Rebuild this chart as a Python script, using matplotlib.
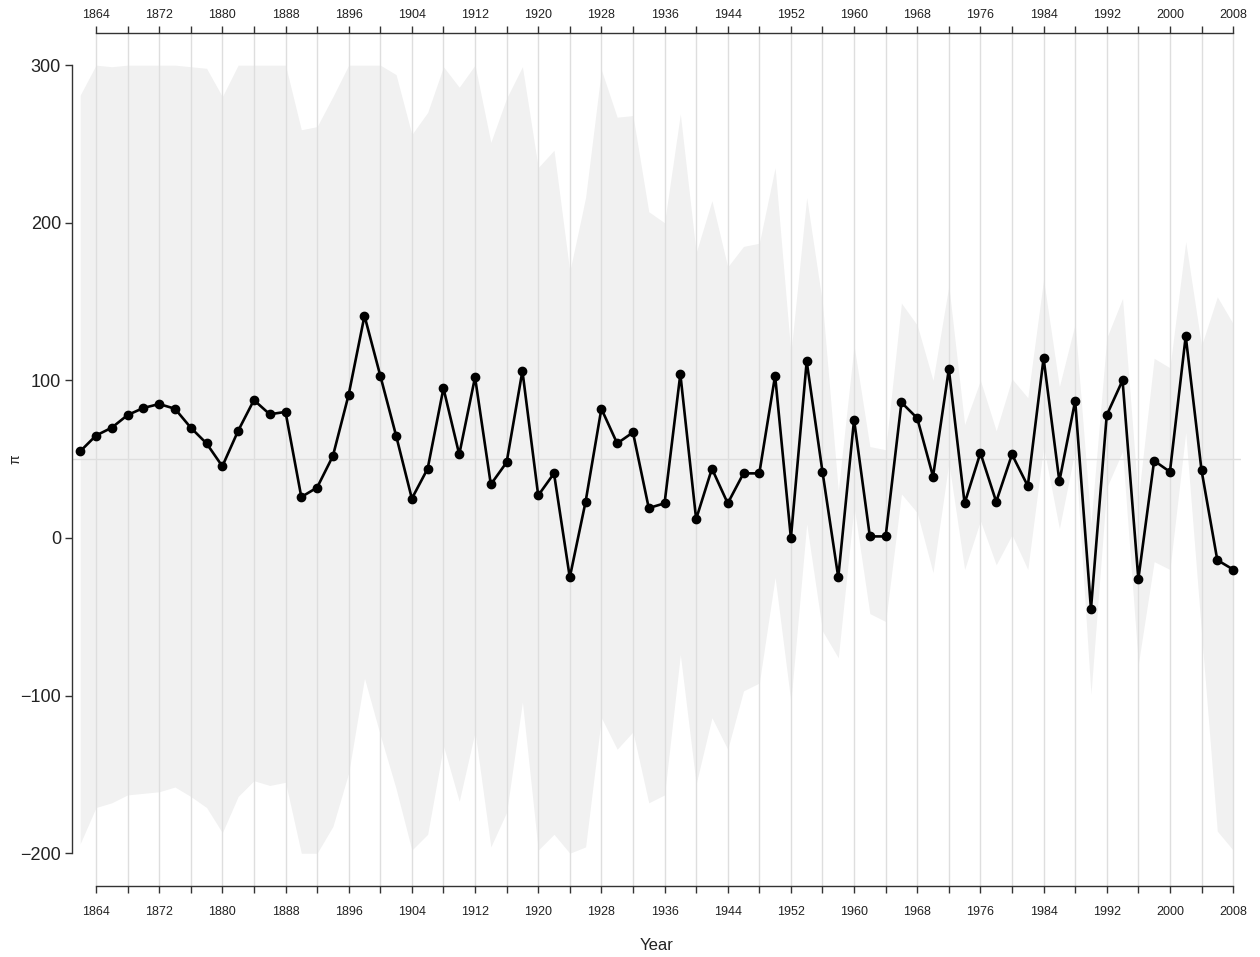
import numpy as np
import matplotlib
matplotlib.use('Agg')
import matplotlib.pyplot as plt
from matplotlib.ticker import MultipleLocator

plt.rcParams['font.family'] = ['Liberation Sans', 'DejaVu Sans']

years = [1862, 1864, 1866, 1868, 1870, 1872, 1874, 1876, 1878, 1880,
         1882, 1884, 1886, 1888, 1890, 1892, 1894, 1896, 1898, 1900,
         1902, 1904, 1906, 1908, 1910, 1912, 1914, 1916, 1918, 1920,
         1922, 1924, 1926, 1928, 1930, 1932, 1934, 1936, 1938, 1940,
         1942, 1944, 1946, 1948, 1950, 1952, 1954, 1956, 1958, 1960,
         1962, 1964, 1966, 1968, 1970, 1972, 1974, 1976, 1978, 1980,
         1982, 1984, 1986, 1988, 1990, 1992, 1994, 1996, 1998, 2000,
         2002, 2004, 2006, 2008]

# estimate of pi per year
pi_est = [55, 65, 70, 78, 82.5, 85, 82, 70, 60, 45.5,
          68, 87.5, 78.5, 80, 26, 32, 52, 91, 141, 103,
          65, 25, 44, 95, 53, 102, 34, 48, 106, 27,
          41, -25, 23, 82, 60, 67, 19, 22, 104, 12,
          44, 22, 41, 41, 103, 0, 112, 42, -25, 75,
          1, 1, 86, 76, 39, 107, 22, 54, 23, 53,
          33, 114, 36, 87, -45, 78, 100, -26, 49, 42,
          128, 43, -14, -20]

# interval bounds (shaded band)
pi_upper = [281, 300, 299, 300, 300, 300, 300, 299, 298, 280,
            300, 300, 300, 300, 259, 261, 280, 300, 300, 300,
            294, 256, 270, 299, 286, 300, 251, 279, 299, 235,
            246, 169, 216, 297, 267, 268, 207, 200, 269, 181,
            214, 172, 185, 187, 235, 117, 216, 149, 30, 122,
            58, 56, 149, 135, 100, 160, 72, 100, 68, 101,
            89, 164, 96, 136, 9, 127, 152, 25, 114, 108,
            188, 122, 153, 136]

pi_lower = [-194, -171, -168, -163, -162, -161, -158, -164, -171, -187,
            -164, -154, -157, -155, -200, -200, -183, -149, -89, -125,
            -159, -198, -188, -132, -167, -123, -196, -174, -104, -198,
            -188, -200, -196, -114, -134, -123, -168, -163, -74, -156,
            -114, -134, -97, -92, -25, -104, 9, -59, -76, 20,
            -48, -53, 28, 16, -22, 48, -20, 11, -17, 2,
            -20, 58, 6, 56, -99, 32, 55, -80, -15, -20,
            67, -60, -186, -198]

ref_level = 50
x_range = (1860.96, 2009)

fig = plt.figure(figsize=(12.6, 9.57), dpi=100)
ax = fig.add_axes([0.05714, 0.07419, 0.92778, 0.89133])

ax.fill_between(years, pi_lower, pi_upper, color='#f1f1f1', lw=0, zorder=1)
ax.axhline(ref_level, color='#dedede', lw=1, zorder=1.5)
ax.plot(years, pi_est, color='black', lw=1.9, marker='o', ms=6, zorder=3)

ax.set_xlim(*x_range)
ax.set_ylim(-220.8, 320.4)

ax.xaxis.set_major_locator(MultipleLocator(8))
ax.xaxis.set_minor_locator(MultipleLocator(4))
ax.yaxis.set_major_locator(MultipleLocator(100))
ax.grid(axis='x', which='both', color='#dedede', lw=1)

ax.spines['bottom'].set_bounds(1864, 2008)
ax.spines['left'].set_bounds(-200, 300)
ax.spines['right'].set_visible(False)
ax.spines['top'].set_visible(False)
for s in ['bottom', 'left']:
    ax.spines[s].set_color('#333333')
    ax.spines[s].set_linewidth(1)

ax.tick_params(axis='x', which='both', direction='out', length=5, width=1,
               color='#333333', labelsize=9, labelcolor='#222222', pad=9.5)
ax.tick_params(axis='y', direction='out', length=5, width=1, color='#333333',
               labelsize=13, labelcolor='#222222', pad=3)

# top year axis, labels sit closer to their spine
top = ax.twiny()
top.set_xlim(*x_range)
top.xaxis.set_major_locator(MultipleLocator(8))
top.xaxis.set_minor_locator(MultipleLocator(4))
for s in ['bottom', 'left', 'right']:
    top.spines[s].set_visible(False)
top.spines['top'].set_bounds(1864, 2008)
top.spines['top'].set_color('#333333')
top.spines['top'].set_linewidth(1)
top.tick_params(axis='x', which='both', direction='out', length=5, width=1,
                color='#333333', labelsize=9, labelcolor='#222222', pad=3.5)

ax.set_xlabel('Year', fontsize=12, color='#222222', labelpad=14)
ax.set_ylabel('π', fontsize=10, color='#222222', labelpad=-2)

fig.savefig('out.png', dpi=100)
